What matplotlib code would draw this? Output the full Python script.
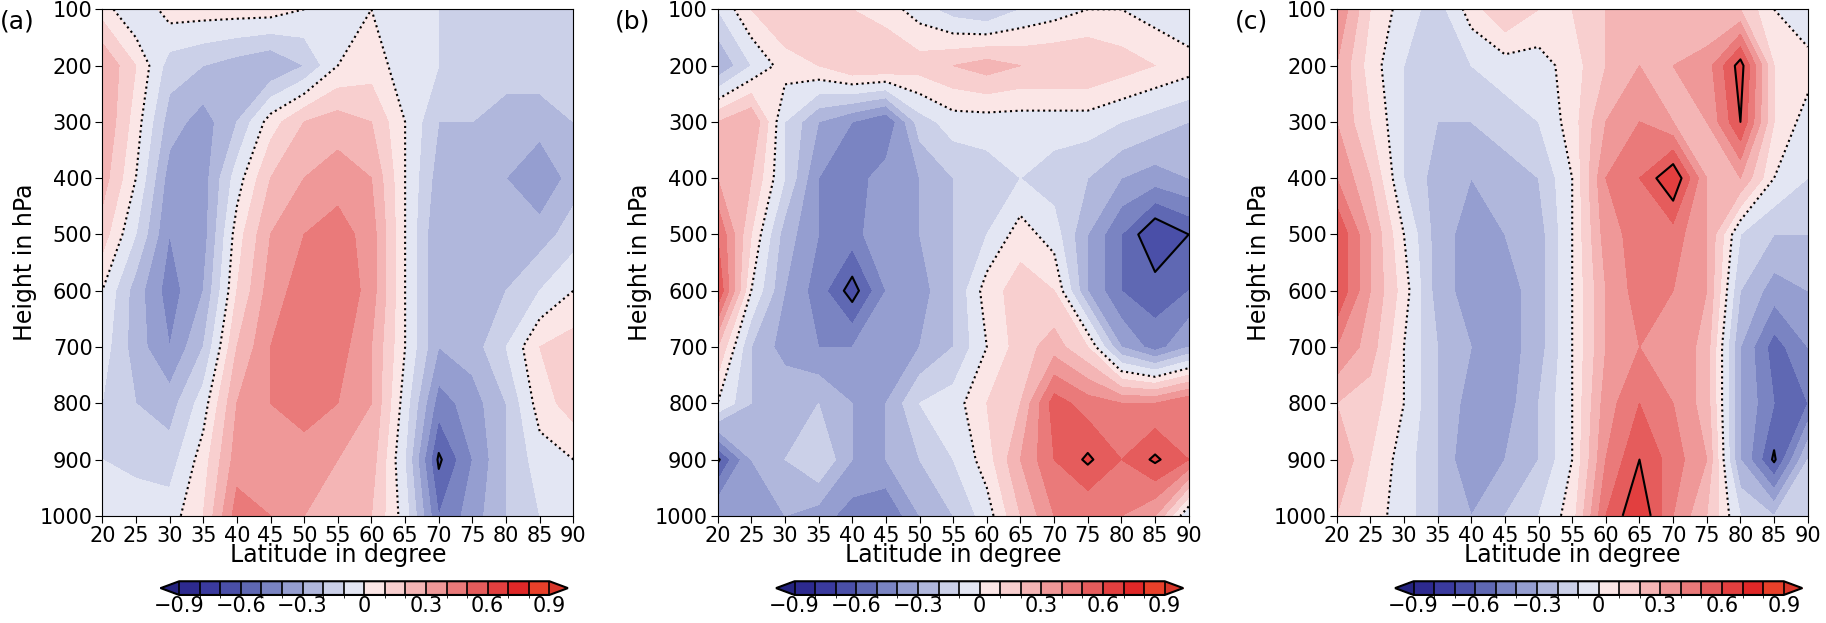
import numpy as np
import matplotlib
matplotlib.use("Agg")
import matplotlib.pyplot as plt
from matplotlib.colors import ListedColormap, BoundaryNorm
from matplotlib.ticker import FuncFormatter, FixedLocator

lats = np.arange(20, 91, 5)
pres = np.arange(100, 1001, 100)

data_a = [
 [0.05,-0.1,0.05,0.05,0.05,0.05,0,0,0,-0.05,-0.1,-0.1,-0.1,-0.1,-0.1],
 [0.3,0.1,-0.15,-0.2,-0.25,-0.3,-0.2,0,0.05,-0.05,-0.1,-0.15,-0.15,-0.15,-0.1],
 [0.3,0.05,-0.25,-0.35,-0.2,0.05,0.2,0.25,0.2,0,-0.2,-0.2,-0.25,-0.25,-0.2],
 [0.25,0,-0.35,-0.35,-0.05,0.2,0.3,0.35,0.3,0,-0.25,-0.25,-0.3,-0.4,-0.25],
 [0.15,-0.1,-0.4,-0.35,0.05,0.3,0.4,0.45,0.35,0,-0.3,-0.25,-0.25,-0.25,-0.15],
 [0.0,-0.25,-0.45,-0.3,0.1,0.35,0.45,0.5,0.35,0,-0.3,-0.25,-0.2,-0.1,-0.0],
 [-0.05,-0.25,-0.4,-0.2,0.2,0.4,0.5,0.45,0.3,0,-0.3,-0.25,-0.1,0.1,0.15],
 [-0.1,-0.2,-0.25,-0.05,0.3,0.4,0.45,0.4,0.3,-0.05,-0.45,-0.35,-0.2,0.05,0.15],
 [-0.1,-0.15,-0.15,0.05,0.35,0.4,0.35,0.3,0.25,-0.1,-0.62,-0.4,-0.2,-0.05,0.0],
 [-0.05,0,-0.05,0.1,0.45,0.4,0.3,0.25,0.2,-0.05,-0.5,-0.35,-0.2,-0.1,-0.05]]
data_b = [
 [-0.1,0.1,0.2,0.15,0.1,0.05,-0.05,-0.15,-0.2,-0.1,-0.05,0,0,-0.05,-0.1],
 [-0.3,-0.1,0.05,0.1,0.2,0.2,0.15,0.2,0.25,0.2,0.2,0.2,0.15,0.1,0.05],
 [0.2,0.3,-0.1,-0.3,-0.4,-0.5,-0.15,-0.05,-0.05,-0.05,-0.05,-0.05,-0.1,-0.15,-0.2],
 [0.3,0.2,-0.1,-0.4,-0.45,-0.35,-0.3,-0.2,-0.15,-0.1,-0.15,-0.2,-0.3,-0.35,-0.3],
 [0.5,0.1,-0.25,-0.4,-0.45,-0.3,-0.3,-0.2,-0.1,0.05,-0.05,-0.3,-0.5,-0.7,-0.6],
 [0.6,0,-0.3,-0.45,-0.65,-0.4,-0.35,-0.2,0.05,0.15,0.1,-0.3,-0.5,-0.55,-0.5],
 [0.2,-0.2,-0.35,-0.4,-0.4,-0.35,-0.3,-0.2,0.0,0.15,0.25,0.1,-0.3,-0.45,-0.3],
 [0,-0.2,-0.2,-0.2,-0.3,-0.3,-0.1,-0.05,0.1,0.2,0.55,0.45,0.4,0.4,0.5],
 [-0.62,-0.3,-0.2,-0.1,-0.3,-0.3,-0.2,-0.1,0.05,0.3,0.5,0.62,0.5,0.62,0.5],
 [-0.3,-0.3,-0.3,-0.35,-0.45,-0.5,-0.3,-0.2,-0.05,0.2,0.4,0.4,0.4,0.3,-0.1]]
data_c = [
 [0.4,0.1,-0.05,-0.15,0.05,0.2,0.1,0.1,0.2,0.3,0.3,0.2,0.2,0.0,-0.1],
 [0.3,0.05,-0.1,-0.15,-0.1,-0.05,-0.05,0.05,0.2,0.3,0.3,0.35,0.65,0.1,0.05],
 [0.3,0.1,-0.1,-0.2,-0.2,-0.15,-0.1,0.05,0.3,0.4,0.3,0.3,0.6,0.1,-0.05],
 [0.4,0.2,-0.1,-0.25,-0.3,-0.25,-0.2,0.0,0.4,0.5,0.7,0.3,0.3,0.0,-0.1],
 [0.6,0.3,0,-0.25,-0.35,-0.3,-0.25,0.0,0.35,0.45,0.45,0.3,-0.1,-0.2,-0.2],
 [0.6,0.3,0.05,-0.25,-0.35,-0.35,-0.25,0.0,0.3,0.45,0.4,0.3,-0.2,-0.35,-0.3],
 [0.4,0.25,0.0,-0.2,-0.3,-0.35,-0.25,0.0,0.3,0.4,0.4,0.25,-0.3,-0.55,-0.4],
 [0.2,0.15,0,-0.2,-0.35,-0.35,-0.2,0.0,0.35,0.5,0.4,0.25,-0.3,-0.5,-0.5],
 [0.3,0.1,-0.05,-0.2,-0.4,-0.3,-0.2,0.0,0.4,0.6,0.45,0.3,-0.3,-0.62,-0.2],
 [0.2,0.05,-0.05,-0.2,-0.3,-0.2,-0.1,0.05,0.5,0.7,0.4,0.2,-0.1,-0.2,-0.1]]
panels = [("(a)", data_a), ("(b)", data_b), ("(c)", data_c)]

levels = np.round(np.arange(-0.9, 0.91, 0.1), 2)
cb_ticks = [-0.9, -0.6, -0.3, 0.0, 0.3, 0.6, 0.9]
blues = ["#2d2a8f", "#3a3a9e", "#4a4fa8", "#5f68b3", "#7a84c2", "#959ed0",
         "#b0b7dc", "#cbd0e8", "#e3e6f3"]
reds = ["#fbe6e6", "#f8cfcf", "#f4b5b5", "#ef9898", "#ea7a7a", "#e55c5c",
        "#e23f3f", "#e02828", "#e8402a"]

def cbfmt(v, pos):
    if abs(v) < 1e-6:
        return "0"
    return ("%.1f" % v).replace("-", "\u2212")

fig = plt.figure(figsize=(18.26, 6.23), dpi=100)
lefts = [0.056, 0.393, 0.732]
width = 0.258
for (lab, d), l in zip(panels, lefts):
    cmap = ListedColormap(blues + reds)
    cmap.set_under("#25237f"); cmap.set_over("#d8362a")
    norm = BoundaryNorm(levels, cmap.N)
    ax = fig.add_axes([l, 0.172, width, 0.813])
    z = np.array(d)
    cf = ax.contourf(lats, pres, z, levels=levels, cmap=cmap, norm=norm, extend="both")
    ax.contour(lats, pres, z, levels=[0], colors="k", linestyles=":", linewidths=1.5)
    ax.contour(lats, pres, z, levels=[-0.6, 0.6], colors="k", linestyles="-", linewidths=1.5)
    ax.set_ylim(1000, 100)
    ax.set_xlim(20, 90)
    ax.set_xticks(lats)
    ax.set_yticks(pres)
    ax.tick_params(labelsize=15, direction="out", length=5, pad=2)
    ax.set_xlabel("Latitude in degree", fontsize=17, labelpad=-2)
    ax.set_ylabel("Height in hPa", fontsize=17, labelpad=2)
    fig.text(l - 0.056, 0.985, lab, fontsize=18, va="top")
    cax = fig.add_axes([l + 0.032, 0.045, width - 0.035, 0.022])
    cb = fig.colorbar(cf, cax=cax, orientation="horizontal", extend="both",
                      drawedges=True)
    cb.ax.xaxis.set_major_locator(FixedLocator(cb_ticks))
    cb.ax.xaxis.set_major_formatter(FuncFormatter(cbfmt))
    cb.ax.tick_params(labelsize=15, length=0, pad=1)
    cb.outline.set_linewidth(1.5)
    cb.dividers.set_linewidth(1.2)
fig.savefig("out.png", dpi=100)
